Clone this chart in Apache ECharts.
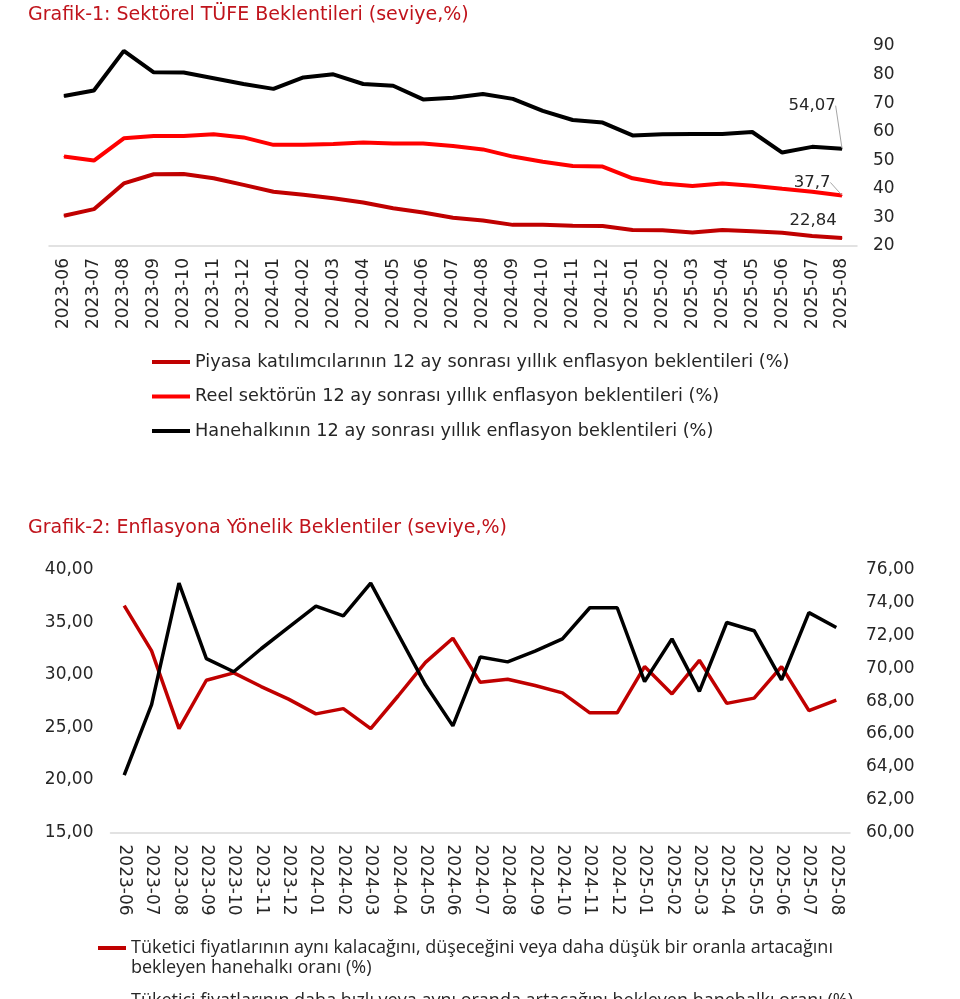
<!DOCTYPE html>
<html>
<head>
<meta charset="utf-8">
<script src="https://cdn.jsdelivr.net/npm/echarts@6/dist/echarts.min.js"></script>
<style>html,body{margin:0;padding:0;background:#fff}#c{width:960px;height:999px}</style>
</head>
<body>
<div id="c"></div>
<script>
const months = ['2023-06','2023-07','2023-08','2023-09','2023-10','2023-11','2023-12',
  '2024-01','2024-02','2024-03','2024-04','2024-05','2024-06','2024-07','2024-08','2024-09','2024-10','2024-11','2024-12',
  '2025-01','2025-02','2025-03','2025-04','2025-05','2025-06','2025-07','2025-08'];

// Grafik-1
const piyasa = [30.6,32.9,41.9,45.1,45.2,43.7,41.4,39.0,37.9,36.7,35.2,33.2,31.7,29.9,28.9,27.4,27.4,27.1,27.0,25.6,25.5,24.7,25.6,25.2,24.6,23.5,22.84];
const reel = [51.3,49.9,57.7,58.5,58.5,59.1,58.0,55.4,55.4,55.7,56.2,55.9,55.9,55.0,53.8,51.3,49.5,48.0,47.8,43.7,41.9,41.0,41.9,41.1,40.0,39.0,37.7];
const hanehalki = [72.5,74.4,88.3,80.8,80.7,78.7,76.7,75.0,79.0,80.1,76.7,76.1,71.3,71.9,73.2,71.5,67.3,64.1,63.2,58.7,59.1,59.2,59.2,59.9,52.7,54.7,54.07];
const names1 = [
  'Piyasa katılımcılarının 12 ay sonrası yıllık enflasyon beklentileri (%)',
  'Reel sektörün 12 ay sonrası yıllık enflasyon beklentileri (%)',
  'Hanehalkının 12 ay sonrası yıllık enflasyon beklentileri (%)'
];
const ticks1 = [20,30,40,50,60,70,80,90];

// Grafik-2
const ayniDusuk = [36.6,32.3,24.9,29.5,30.2,28.9,27.7,26.3,26.8,24.9,28.0,31.2,33.5,29.3,29.6,29.0,28.3,26.4,26.4,30.8,28.2,31.4,27.3,27.8,30.8,26.6,27.6];
const hizli = [63.5,67.8,75.2,70.6,69.8,71.2,72.5,73.8,73.2,75.2,72.1,69.0,66.5,70.7,70.4,71.05,71.8,73.7,73.7,69.2,71.8,68.6,72.8,72.3,69.3,73.4,72.5];
const names2 = [
  'Tüketici fiyatlarının aynı kalacağını, düşeceğini veya daha düşük bir oranla artacağını bekleyen hanehalkı oranı (%)',
  'Tüketici fiyatlarının daha hızlı veya aynı oranda artacağını bekleyen hanehalkı oranı (%)'
];
const leftTicks2 = [15,20,25,30,35,40];
const rightTicks2 = [60,62,64,66,68,70,72,74,76];

const title1 = 'Grafik-1: Sektörel TÜFE Beklentileri (seviye,%)';
const title2 = 'Grafik-2: Enflasyona Yönelik Beklentiler (seviye,%)';

const MONT = 'DejaVu Sans';
const last = months.length - 1;
const fmtComma = v => String(v).replace('.', ',');
const annot = { // label moves for the end labels of Grafik-1
  0: {dx: -29, dy: -4, line: false},
  1: {dx: -30, dy: 0, line: true},
  2: {dx: -30, dy: -30, line: true}
};
function withEndLabel(vals, sIdx) {
  return vals.map((v, i) => i === last ? {
    value: v,
    label: {show: true, position: 'top', distance: 4, formatter: p => fmtComma(p.value),
      fontFamily: MONT, fontSize: 16.5, color: '#262626'},
    labelLine: {show: annot[sIdx].line, lineStyle: {color: '#a6a6a6', width: 1}}
  } : v);
}

const colors1 = ['#C00000', '#FF0000', '#000000'];
const data1 = [piyasa, reel, hanehalki];

const series = [];
data1.forEach((d, k) => {
  series.push({
    name: names1[k], type: 'line', xAxisIndex: 0, yAxisIndex: 0,
    data: withEndLabel(d, k),
    symbol: 'circle', symbolSize: 1, showSymbol: true,
    itemStyle: {color: colors1[k]},
    lineStyle: {color: colors1[k], width: 4},
    labelLayout: p => p.dataIndex === last ? {dx: annot[k].dx, dy: annot[k].dy} : {},
    silent: true, animation: false, z: 3 + k
  });
});
series.push({
  name: names2[0], type: 'line', xAxisIndex: 1, yAxisIndex: 2,
  data: ayniDusuk, showSymbol: false,
  itemStyle: {color: '#C00000'}, lineStyle: {color: '#C00000', width: 3.5},
  animation: false
});
series.push({
  name: names2[1], type: 'line', xAxisIndex: 1, yAxisIndex: 3,
  data: hizli, showSymbol: false,
  itemStyle: {color: '#000000'}, lineStyle: {color: '#000000', width: 3.5},
  animation: false
});

// leading blank line keeps the legend icon level with the first text line
const wrap2 = n => n === names2[0]
  ? '\nTüketici fiyatlarının aynı kalacağını, düşeceğini veya daha düşük bir oranla artacağını\nbekleyen hanehalkı oranı (%)'
  : n;

const option = {
  backgroundColor: '#fff',
  animation: false,
  title: [
    {text: title1, left: 23, top: 1, textStyle: {fontFamily: MONT, fontSize: 19, fontWeight: 'normal', color: '#C0141C'}},
    {text: title2, left: 23, top: 514, textStyle: {fontFamily: MONT, fontSize: 19, fontWeight: 'normal', color: '#C0141C'}}
  ],
  legend: [
    {
      data: names1, orient: 'vertical', left: 152, top: 352, padding: 0,
      itemWidth: 38, itemHeight: 4, icon: 'rect', itemGap: 14.5,
      textStyle: {fontFamily: MONT, fontSize: 17.7, color: '#262626', lineHeight: 20},
      selectedMode: false
    },
    {
      data: [names2[0]], orient: 'vertical', left: 98, top: 918, padding: 0,
      itemWidth: 28, itemHeight: 4, icon: 'rect',
      formatter: wrap2,
      textStyle: {fontFamily: 'Open Sans', fontSize: 18, color: '#262626', lineHeight: 20},
      selectedMode: false
    },
    {
      data: [names2[1]], orient: 'vertical', left: 98, top: 991, padding: 0,
      itemWidth: 28, itemHeight: 4, icon: 'rect',
      textStyle: {fontFamily: 'Open Sans', fontSize: 18, color: '#262626', lineHeight: 20},
      selectedMode: false
    }
  ],
  grid: [
    {left: 49, right: 103, top: 46, height: 200},
    {left: 110.5, right: 110, top: 570, height: 262.5}
  ],
  xAxis: [
    {
      type: 'category', gridIndex: 0, data: months, boundaryGap: true,
      axisLine: {lineStyle: {color: '#d9d9d9', width: 1.5}}, axisTick: {show: false},
      axisLabel: {rotate: 90, interval: 0, margin: 12, fontFamily: MONT, fontSize: 17, color: '#262626'}
    },
    {
      type: 'category', gridIndex: 1, data: months, boundaryGap: true,
      axisLine: {lineStyle: {color: '#d9d9d9', width: 1.5}}, axisTick: {show: false},
      axisLabel: {rotate: -90, interval: 0, margin: 12, fontFamily: MONT, fontSize: 17, color: '#262626'}
    }
  ],
  yAxis: [
    {
      type: 'value', gridIndex: 0, position: 'right', min: ticks1[0], max: ticks1[ticks1.length - 1], interval: 10,
      splitLine: {show: false}, axisLine: {show: false}, axisTick: {show: false},
      axisLabel: {margin: 16, fontFamily: MONT, fontSize: 17, color: '#262626'}
    },
    {type: 'value', gridIndex: 0, show: false, min: ticks1[0], max: ticks1[ticks1.length - 1]},
    {
      type: 'value', gridIndex: 1, position: 'left', min: leftTicks2[0], max: leftTicks2[leftTicks2.length - 1], interval: 5,
      splitLine: {show: false}, axisLine: {show: false}, axisTick: {show: false},
      axisLabel: {margin: 17, fontFamily: MONT, fontSize: 17, color: '#262626', formatter: v => v.toFixed(2).replace('.', ',')}
    },
    {
      type: 'value', gridIndex: 1, position: 'right', min: rightTicks2[0], max: rightTicks2[rightTicks2.length - 1], interval: 2,
      splitLine: {show: false}, axisLine: {show: false}, axisTick: {show: false},
      axisLabel: {margin: 16, fontFamily: MONT, fontSize: 17, color: '#262626', formatter: v => v.toFixed(2).replace('.', ',')}
    }
  ],
  series: series
};

const chart = echarts.init(document.getElementById('c'), null, {renderer: 'canvas'});
chart.setOption(option);
</script>
</body>
</html>
